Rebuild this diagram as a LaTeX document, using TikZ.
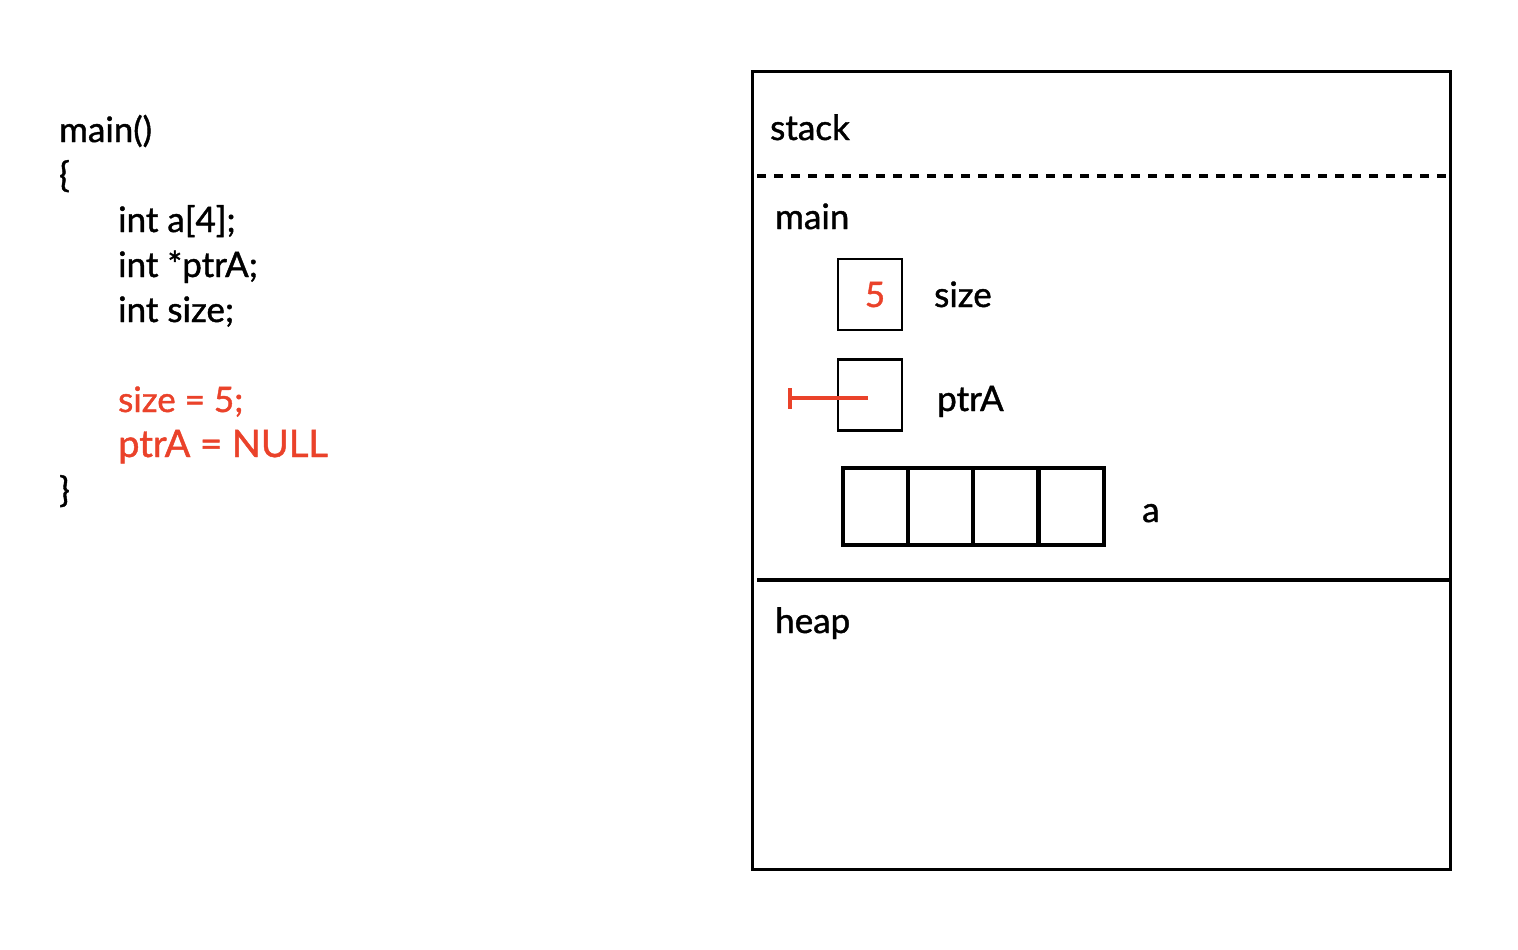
\documentclass[tikz,border=0pt]{standalone}
\usepackage{fontspec}
\setmainfont{Lato}[BoldFont=Lato,BoldFeatures={FakeBold=1.2}]
\definecolor{codered}{RGB}{234,66,42}
\begin{document}
\begin{tikzpicture}[x=1pt,y=-1pt,
  txt/.style={anchor=base west,inner sep=0pt,font=\fontsize{35}{40}\selectfont\bfseries},
  redtxt/.style={txt,text=codered},
  cell/.style={draw,line width=2.6pt,minimum width=64pt,minimum height=71pt,inner sep=0pt},
  acell/.style={draw,line width=4pt,minimum width=65pt,minimum height=77pt,inner sep=0pt}]
\useasboundingbox (0,0) rectangle (1518,950);
% code
\node[txt] (l1) at (59,142) {main()};
\node[txt] (l2) at (59,187) {\{};
\node[txt] (l3) at (118,232) {int a[4];};
\node[txt] (l4) at (118,277) {int *ptrA;};
\node[txt] (l5) at (118,322) {int size;};
\node[redtxt] (l6) at (118,412) {size = 5;};
\node[redtxt,font=\fontsize{38}{42}\selectfont\bfseries] (l7) at (118,457) {ptrA = NULL};
\node[txt] (l8) at (59,502) {\}};
% memory box
\node[draw,line width=2.6pt,minimum width=698pt,minimum height=798pt,inner sep=0pt,anchor=north west] (mem) at (751,70) {};
\coordinate (dl) at (757,176);
\coordinate (dr) at (1446,176);
\draw[line width=3.5pt,dash pattern=on 9pt off 8pt] (dl) -- (dr);
\coordinate (sl) at (757,580);
\coordinate (sr) at (1449,580);
\draw[line width=4pt] (sl) -- (sr);
\node[txt] (stack) at (770,140) {stack};
\node[txt] (mainlbl) at (775,229) {main};
\node[txt] (heap) at (775,633) {heap};
% size
\node[cell] (sizebox) at (870,294.5) {};
\node[txt,text=codered,anchor=base] (five) at (875,307) {5};
\node[txt] (sizelbl) at (934,307) {size};
% ptrA
\node[cell] (ptrbox) at (870,395) {};
\node[txt] (ptrlbl) at (937,411) {ptrA};
\coordinate (nullend) at (790,398);
\coordinate (nullstart) at (868,398);
\draw[codered,line width=3.5pt] (nullstart) -- (nullend);
\coordinate (bt) at (790,388);
\coordinate (bb) at (790,409);
\draw[codered,line width=4.5pt] (bt) -- (bb);
% array a
\node[acell] (a0) at (875.5,506.5) {};
\node[acell] (a1) at (940.5,506.5) {};
\node[acell] (a2) at (1005.5,506.5) {};
\node[acell] (a3) at (1071,506.5) {};
\node[txt] (alabel) at (1142,522) {a};
\end{tikzpicture}
\end{document}
